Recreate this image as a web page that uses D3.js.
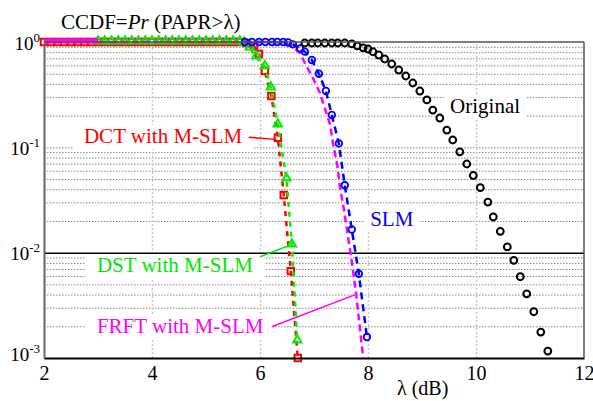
<!DOCTYPE html>
<html>
<head>
<meta charset="utf-8">
<script src="https://cdn.jsdelivr.net/npm/d3@7"></script>
<style>
body { margin: 0; background: #fff; }
svg { display: block; }
svg text { font-family: "Liberation Serif", Tinos, "Times New Roman", Times, "DejaVu Serif", serif; }
</style>
</head>
<body>
<script>
var width = 593
var height = 401
var margin = {top: 42, right: 9, bottom: 43, left: 44}

// axis ticks
var xTicks = [2, 4, 6, 8, 10, 12]
var yTicks = [1, 0.1, 0.01, 0.001]
var yTickExp = ["0", "-1", "-2", "-3"]

// DCT with M-SLM (red squares)
var dctLambda = [2, 2.125, 2.25, 2.375, 2.5, 2.625, 2.75, 2.875, 3, 3.125, 3.25, 3.375, 3.5, 3.625, 3.75, 3.875,
  4, 4.125, 4.25, 4.375, 4.5, 4.625, 4.75, 4.875, 5, 5.125, 5.25, 5.375, 5.5, 5.625,
  5.75, 5.89, 5.98, 6.09, 6.21, 6.33, 6.44, 6.57, 6.70]
var dctCcdf = [1, 1, 1, 1, 1, 1, 1, 1, 1, 1, 1, 1, 1, 1, 1, 1,
  1, 1, 1, 1, 1, 1, 1, 1, 1, 1, 1, 1, 1, 1,
  0.98, 0.916, 0.77, 0.53, 0.307, 0.123, 0.0352, 0.00668, 0.001]

// DST with M-SLM (green triangles)
var dstLambda = [3, 3.125, 3.25, 3.375, 3.5, 3.625, 3.75, 3.875,
  4, 4.125, 4.25, 4.375, 4.5, 4.625, 4.75, 4.875, 5, 5.125, 5.25, 5.375, 5.5, 5.625,
  5.71, 5.81, 5.93, 6.09, 6.20, 6.33, 6.49, 6.59, 6.69]
var dstCcdf = [1, 1, 1, 1, 1, 1, 1, 1,
  1, 1, 1, 1, 1, 1, 1, 1, 1, 1, 1, 1, 1, 1,
  0.97, 0.877, 0.72, 0.58, 0.366, 0.163, 0.05, 0.0118, 0.00145]

// FRFT with M-SLM (magenta dashed)
var frftLambda = [2, 3, 3.5, 4, 4.5, 5, 5.5, 6, 6.3, 6.46, 6.6, 6.74, 6.83, 6.98, 7.11, 7.20, 7.30, 7.35,
  7.43, 7.48, 7.55, 7.63, 7.69, 7.78, 7.91]
var frftCcdf = [1, 1, 1, 1, 1, 1, 1, 1, 0.995, 0.97, 0.9, 0.787, 0.632, 0.455, 0.328, 0.236, 0.163, 0.110,
  0.068, 0.042, 0.0265, 0.0141, 0.0089, 0.0041, 0.001]

// SLM (blue circles)
var slmLambda = [5.72, 5.85, 5.98, 6.1, 6.22, 6.32, 6.43, 6.52, 6.61, 6.74, 6.83, 6.96, 7.09, 7.22,
  7.33, 7.46, 7.57, 7.70, 7.83, 7.98]
var slmCcdf = [1, 1, 1, 1, 1, 1, 1, 0.99, 0.95, 0.87, 0.81, 0.675, 0.50, 0.343,
  0.203, 0.109, 0.0436, 0.0166, 0.0063, 0.00158]

// Original (black circles)
var origLambda = [6.83, 6.96, 7.07, 7.20, 7.33, 7.44, 7.57, 7.70, 7.80, 7.91, 8.00, 8.09, 8.20, 8.31,
  8.44, 8.57, 8.70, 8.83, 8.96, 9.09, 9.20, 9.33, 9.46, 9.57, 9.70, 9.83, 9.95, 10.08, 10.22, 10.32,
  10.45, 10.58, 10.70, 10.82, 10.94, 11.07, 11.20, 11.33]
var origCcdf = [1, 1, 1, 1, 1, 1, 1, 0.98, 0.94, 0.90, 0.877, 0.826, 0.769, 0.705,
  0.632, 0.554, 0.486, 0.417, 0.350, 0.288, 0.231, 0.194, 0.149, 0.120, 0.0926, 0.0710, 0.0552, 0.0423, 0.0309, 0.0223,
  0.0163, 0.0116, 0.00864, 0.00604, 0.00416, 0.00281, 0.0018, 0.00119]

// annotations (text start lambda, baseline ccdf)
var labelText = ["DCT with M-SLM", "DST with M-SLM", "FRFT with M-SLM", "SLM", "Original"]
var labelLambda = [2.74, 2.98, 2.98, 8.04, 9.52]
var labelCcdf = [0.11, 0.00654, 0.00172, 0.0179, 0.212]
var labelColor = ["#ff0000", "#00e600", "#ff00ff", "#0000ff", "#000000"]
var leaderFrom = [[5.79, 0.1245], [6.0, 0.00914], [6.217, 0.00198]]
var leaderTo = [[6.30, 0.119], [6.556, 0.0118], [7.79, 0.00404]]

var serif = "'Liberation Serif', Tinos, 'Times New Roman', Times, 'DejaVu Serif', serif"

var padded_width = width - margin.left - margin.right
var padded_height = height - margin.top - margin.bottom

var svg = d3.select("body")
  .append("svg")
  .attr("width", width)
  .attr("height", height)

var x = d3.scaleLinear().domain([2, 12]).range([margin.left, width - margin.right])
var y = d3.scaleLog().domain([0.001, 1]).range([height - margin.bottom, margin.top])

function zip(a, b) {
  return a.map(function(v, i) { return [v, b[i]] })
}

// minor grid (everything but 1 and 0.01)
var minor = y.ticks().filter(function(v) {
  return Math.abs(v - 1) > 1e-9 && Math.abs(v - 0.01) > 1e-9
})

svg.append("g")
  .attr("transform", "translate(" + margin.left + ",0)")
  .call(d3.axisLeft(y).tickValues(minor).tickSize(-padded_width).tickFormat(""))
  .call(function(g) {
    g.select(".domain").remove()
    g.selectAll("line").attr("stroke", "#888").attr("stroke-dasharray", "1.5,1.5")
  })

svg.append("g")
  .attr("transform", "translate(0," + (height - margin.bottom) + ")")
  .call(d3.axisBottom(x).tickValues([4, 6, 8, 10]).tickSize(-padded_height).tickFormat(""))
  .call(function(g) {
    g.select(".domain").remove()
    g.selectAll("line").attr("stroke", "#c8c8c8").attr("stroke-width", 1.5).attr("stroke-dasharray", "2,2")
  })

var boxLayer = svg.append("g")

// solid line at 10^-2
svg.append("g")
  .attr("transform", "translate(" + margin.left + ",0)")
  .call(d3.axisLeft(y).tickValues([0.01]).tickSize(-padded_width).tickFormat(""))
  .call(function(g) {
    g.select(".domain").remove()
    g.selectAll("line").attr("stroke", "#000").attr("stroke-width", 1.5)
  })

var line = d3.line()
  .x(function(d) { return x(d[0]) })
  .y(function(d) { return y(d[1]) })

// DCT
var dct = zip(dctLambda, dctCcdf)
svg.append("path").datum(dct).attr("d", line)
  .attr("fill", "none").attr("stroke", "#ff0000").attr("stroke-width", 2.5).attr("stroke-dasharray", "5,5")
svg.append("g").selectAll("path").data(dct).enter().append("path")
  .attr("d", d3.symbol(d3.symbolSquare, 42))
  .attr("transform", function(d) { return "translate(" + x(d[0]) + "," + y(d[1]) + ")" })
  .attr("fill", "none").attr("stroke", "#ff0000").attr("stroke-width", 2)

// DST
var dst = zip(dstLambda, dstCcdf)
svg.append("path").datum(dst).attr("d", line)
  .attr("fill", "none").attr("stroke", "#00ee00").attr("stroke-width", 2.5)
  .attr("stroke-dasharray", "5,5").attr("stroke-dashoffset", 5)
svg.append("g").selectAll("path").data(dst).enter().append("path")
  .attr("d", d3.symbol(d3.symbolTriangle, 30))
  .attr("transform", function(d) { return "translate(" + x(d[0]) + "," + (y(d[1]) - 1) + ")" })
  .attr("fill", "none").attr("stroke", "#00ee00").attr("stroke-width", 2)

// FRFT
var frft = zip(frftLambda, frftCcdf)
svg.append("path").datum(frft).attr("d", line)
  .attr("fill", "none").attr("stroke", "#ff00ff").attr("stroke-width", 2.5).attr("stroke-dasharray", "7,4")
svg.append("path").datum(frft.slice(0, 2)).attr("d", line)
  .attr("fill", "none").attr("stroke", "#ff00ff").attr("stroke-width", 5)
  .attr("transform", "translate(0,-1)")

// SLM
var slm = zip(slmLambda, slmCcdf)
svg.append("path").datum(slm).attr("d", line)
  .attr("fill", "none").attr("stroke", "#0000ff").attr("stroke-width", 2.5).attr("stroke-dasharray", "7,5")
svg.append("g").selectAll("circle").data(slm).enter().append("circle")
  .attr("cx", function(d) { return x(d[0]) })
  .attr("cy", function(d) { return y(d[1]) })
  .attr("r", 3.3)
  .attr("fill", "none").attr("stroke", "#0000ff").attr("stroke-width", 1.8)

// Original
var orig = zip(origLambda, origCcdf)
svg.append("g").selectAll("circle").data(orig).enter().append("circle")
  .attr("cx", function(d) { return x(d[0]) })
  .attr("cy", function(d) { return y(d[1]) + 1 })
  .attr("r", 3.4)
  .attr("fill", "none").attr("stroke", "#000").attr("stroke-width", 2)

// frame
svg.append("line")
  .attr("x1", margin.left).attr("x2", width - margin.right)
  .attr("y1", margin.top).attr("y2", margin.top)
  .attr("stroke", "#555").attr("stroke-width", 1.5)
svg.append("line")
  .attr("x1", width - margin.right).attr("x2", width - margin.right)
  .attr("y1", margin.top).attr("y2", height - margin.bottom)
  .attr("stroke", "#555").attr("stroke-width", 1.5)

// x axis
svg.append("g")
  .attr("transform", "translate(0," + (height - margin.bottom) + ")")
  .call(d3.axisBottom(x).tickValues(xTicks).tickSize(0).tickPadding(8))
  .call(function(g) {
    g.attr("font-family", serif).attr("font-size", 20)
    g.select(".domain").attr("stroke", "#000").attr("stroke-width", 2)
    g.selectAll("text").attr("fill", "#000")
  })

// y axis
var yAxis = svg.append("g")
  .attr("transform", "translate(" + margin.left + ",0)")
  .call(d3.axisLeft(y).tickValues(yTicks).tickSize(0).tickFormat(""))
  .attr("font-family", serif)
yAxis.select(".domain").attr("stroke", "#666").attr("stroke-width", 2)
yAxis.selectAll(".tick").each(function(d, i) {
  var t = d3.select(this).append("text")
    .attr("x", -4)
    .attr("y", i === yTicks.length - 1 ? 2 : 7)
    .attr("text-anchor", "end")
    .attr("fill", "#000")
  t.append("tspan").attr("font-size", 19).text("10")
  t.append("tspan").attr("font-size", 13).attr("dy", -8).text(yTickExp[i])
})

// title and x label
var title = svg.append("text")
  .attr("x", 61).attr("y", 29)
  .attr("font-family", serif)
  .attr("font-size", 21)
title.append("tspan").text("CCDF=")
title.append("tspan").attr("font-style", "italic").text("Pr")
title.append("tspan").text(" (PAPR>λ)")

svg.append("text")
  .attr("x", 397).attr("y", 395)
  .attr("font-family", serif)
  .attr("font-size", 20)
  .text("λ (dB)")

// annotations
labelText.forEach(function(s, i) {
  var t = svg.append("text")
    .attr("x", x(labelLambda[i]))
    .attr("y", y(labelCcdf[i]))
    .attr("font-family", serif)
    .attr("font-size", 21)
    .attr("fill", labelColor[i])
    .text(s)
  var b = t.node().getBBox()
  var pad = s.length > 8 ? 11 : 6
  boxLayer.append("rect")
    .attr("x", b.x - pad).attr("y", b.y + 1)
    .attr("width", b.width + 2 * pad).attr("height", b.height)
    .attr("fill", "#fff")
})

leaderFrom.forEach(function(p, i) {
  svg.append("line")
    .attr("x1", x(p[0])).attr("y1", y(p[1]))
    .attr("x2", x(leaderTo[i][0])).attr("y2", y(leaderTo[i][1]))
    .attr("stroke", labelColor[i]).attr("stroke-width", 1.5)
})
</script>
</body>
</html>
